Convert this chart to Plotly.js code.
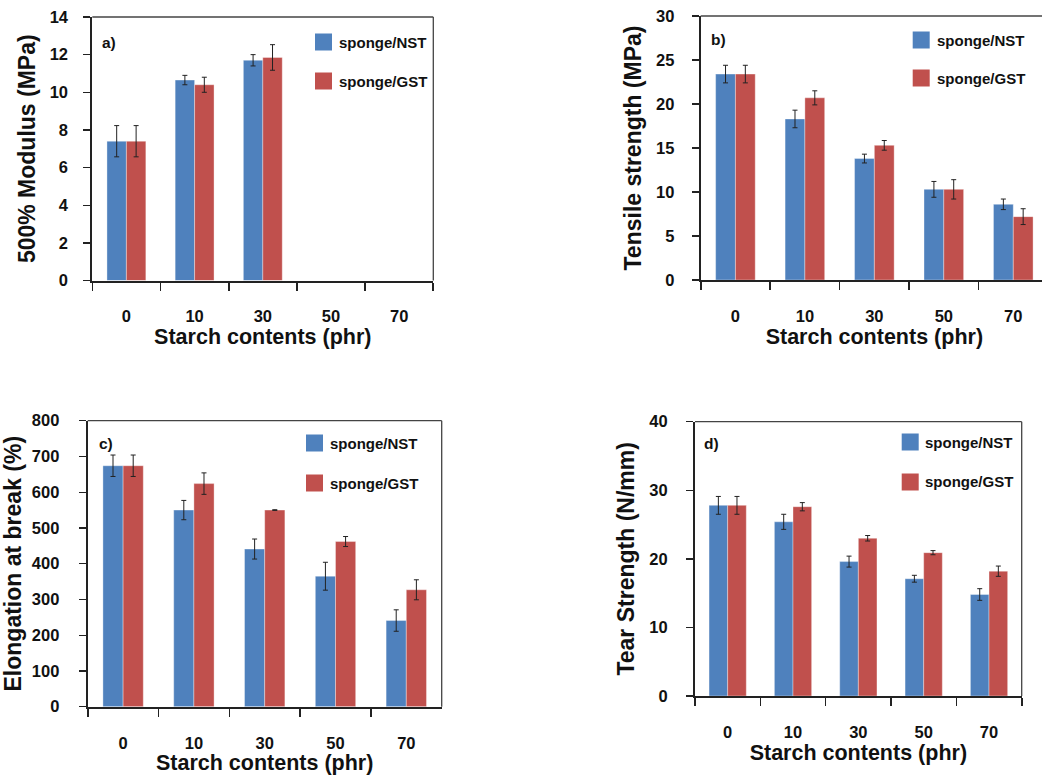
<!DOCTYPE html>
<html>
<head>
<meta charset="utf-8">
<script src="https://cdn.plot.ly/plotly-3.0.1.min.js"></script>
<style>
  html, body { margin: 0; padding: 0; background: #fff; overflow: hidden; }
  #chart { width: 1050px; height: 777px; }
</style>
</head>
<body>
<div id="chart"></div>
<script>
// Starch content levels (phr)
const categories = ["0", "10", "30", "50", "70"];
const seriesNames = ["sponge/NST", "sponge/GST"];

// a) 500% modulus (MPa)
const modulusNST = [7.4, 10.65, 11.7, null, null];
const modulusNSTErr = [0.83, 0.25, 0.3, null, null];
const modulusGST = [7.4, 10.4, 11.85, null, null];
const modulusGSTErr = [0.83, 0.4, 0.68, null, null];

// b) Tensile strength (MPa)
const tensileNST = [23.4, 18.3, 13.8, 10.3, 8.6];
const tensileNSTErr = [1.0, 1.0, 0.5, 0.9, 0.6];
const tensileGST = [23.4, 20.7, 15.3, 10.3, 7.2];
const tensileGSTErr = [1.0, 0.8, 0.55, 1.1, 0.9];

// c) Elongation at break (%)
const elongNST = [674, 550, 441, 365, 241];
const elongNSTErr = [30, 27, 28, 39, 30];
const elongGST = [674, 624, 550, 462, 327];
const elongGSTErr = [30, 30, 1, 14, 28];

// d) Tear strength (N/mm)
const tearNST = [27.8, 25.4, 19.6, 17.1, 14.8];
const tearNSTErr = [1.3, 1.1, 0.8, 0.5, 0.85];
const tearGST = [27.8, 27.6, 23.0, 20.9, 18.2];
const tearGSTErr = [1.3, 0.6, 0.4, 0.3, 0.75];

const W = 1050, H = 777;
const FONT = "Liberation Sans, Arial, Helvetica, sans-serif";
const INK = "#111";
const colors = ["#4F81BD", "#C0504D"];

const px = x => x / W;
const py = y => 1 - y / H;
const xDom = (l, r) => [px(l), px(r)];
const yDom = (t, b) => [py(b), py(t)];

const panels = [
  { id: "", label: "a)", yTitle: "500% Modulus (MPa)", range: [0, 14], dtick: 2,
    values: [modulusNST, modulusGST], errors: [modulusNSTErr, modulusGSTErr],
    x: xDom(92.3, 433.3), y: yDom(17, 280.5), yStandoff: 12,
    labelPos: [100, 42], legend: { sq: 315, text: 337, rows: [42, 81] } },
  { id: "2", label: "b)", yTitle: "Tensile strength (MPa)", range: [0, 30], dtick: 5,
    values: [tensileNST, tensileGST], errors: [tensileNSTErr, tensileGSTErr],
    x: xDom(700.7, 1048), y: yDom(16, 280), yStandoff: 14,
    labelPos: [709, 39], legend: { sq: 912.7, text: 935, rows: [40, 78] } },
  { id: "3", label: "c)", yTitle: "Elongation at break (%)", range: [0, 800], dtick: 100,
    values: [elongNST, elongGST], errors: [elongNSTErr, elongGSTErr],
    x: xDom(87.7, 441.7), y: yDom(420.7, 706.7), yStandoff: 16,
    labelPos: [97, 443], legend: { sq: 306, text: 328, rows: [443, 483] } },
  { id: "4", label: "d)", yTitle: "Tear Strength (N/mm)", range: [0, 40], dtick: 10,
    values: [tearNST, tearGST], errors: [tearNSTErr, tearGSTErr],
    x: xDom(695, 1021.7), y: yDom(421.7, 696), yStandoff: 15,
    labelPos: [701.7, 443], legend: { sq: 901.7, text: 923.3, rows: [442, 482] } }
];

const traces = [];
const layout = {
  width: W, height: H,
  margin: { l: 0, r: 0, t: 0, b: 0 },
  paper_bgcolor: "#fff", plot_bgcolor: "#fff",
  barmode: "group", bargap: 0.43, bargroupgap: 0,
  showlegend: false,
  font: { family: FONT, color: INK },
  shapes: [], annotations: []
};

panels.forEach(p => {
  const xa = "x" + p.id, ya = "y" + p.id;
  seriesNames.forEach((name, k) => {
    traces.push({
      type: "bar", name: name, x: categories, y: p.values[k],
      xaxis: xa, yaxis: ya,
      marker: { color: colors[k], line: { color: "rgba(255,255,255,0.35)", width: 1 } },
      error_y: { type: "data", array: p.errors[k], visible: true,
                 color: "#222", thickness: 1, width: 2.5 },
      hoverinfo: "x+y+name"
    });
  });

  layout["xaxis" + p.id] = {
    domain: p.x, anchor: ya,
    type: "category", categoryorder: "array", categoryarray: categories,
    range: [-0.5, 4.5], tickson: "boundaries",
    ticks: "outside", ticklen: 8, tickwidth: 1.6, tickcolor: "#222",
    showline: true, linecolor: "#222", linewidth: 2,
    showgrid: false, zeroline: false, fixedrange: true,
    ticklabelstandoff: 20,
    tickfont: { family: FONT, size: 16.5, weight: "bold", color: INK },
    title: { text: "Starch contents (phr)", standoff: 0,
             font: { family: FONT, size: 21.5, weight: "bold", color: INK } }
  };
  layout["yaxis" + p.id] = {
    domain: p.y, anchor: xa,
    range: p.range, dtick: p.dtick, tick0: 0,
    ticks: "outside", ticklen: 7, tickwidth: 1.4, tickcolor: "#222",
    showline: true, linecolor: "#222", linewidth: 2,
    showgrid: false, zeroline: false, fixedrange: true,
    ticklabelstandoff: p.yStandoff,
    tickfont: { family: FONT, size: 16.5, weight: "bold", color: INK },
    title: { text: p.yTitle, standoff: 8,
             font: { family: FONT, size: 23, weight: "bold", color: INK } }
  };

  // thin frame on the top and right sides of each plot area
  const lineStyle = { color: "#444", width: 1.3 };
  layout.shapes.push(
    { type: "line", xref: xa + " domain", yref: ya + " domain", x0: 0, x1: 1, y0: 1, y1: 1, line: lineStyle },
    { type: "line", xref: xa + " domain", yref: ya + " domain", x0: 1, x1: 1, y0: 0, y1: 1, line: lineStyle }
  );

  // panel label
  layout.annotations.push({
    xref: "paper", yref: "paper", x: px(p.labelPos[0]), y: py(p.labelPos[1]),
    xanchor: "left", yanchor: "middle", showarrow: false, text: p.label,
    font: { family: FONT, size: 15.5, weight: "bold", color: INK }
  });

  // legend keys
  seriesNames.forEach((name, k) => {
    const cy = p.legend.rows[k];
    layout.shapes.push({
      type: "rect", xref: "paper", yref: "paper",
      x0: px(p.legend.sq), x1: px(p.legend.sq + 17),
      y0: py(cy + 8.5), y1: py(cy - 8.5),
      fillcolor: colors[k], line: { width: 0 }
    });
    layout.annotations.push({
      xref: "paper", yref: "paper", x: px(p.legend.text), y: py(cy),
      xanchor: "left", yanchor: "middle", showarrow: false, text: name,
      font: { family: FONT, size: 15, weight: "bold", color: INK }
    });
  });
});

Plotly.newPlot("chart", traces, layout, { displayModeBar: false, staticPlot: true });
</script>
</body>
</html>
